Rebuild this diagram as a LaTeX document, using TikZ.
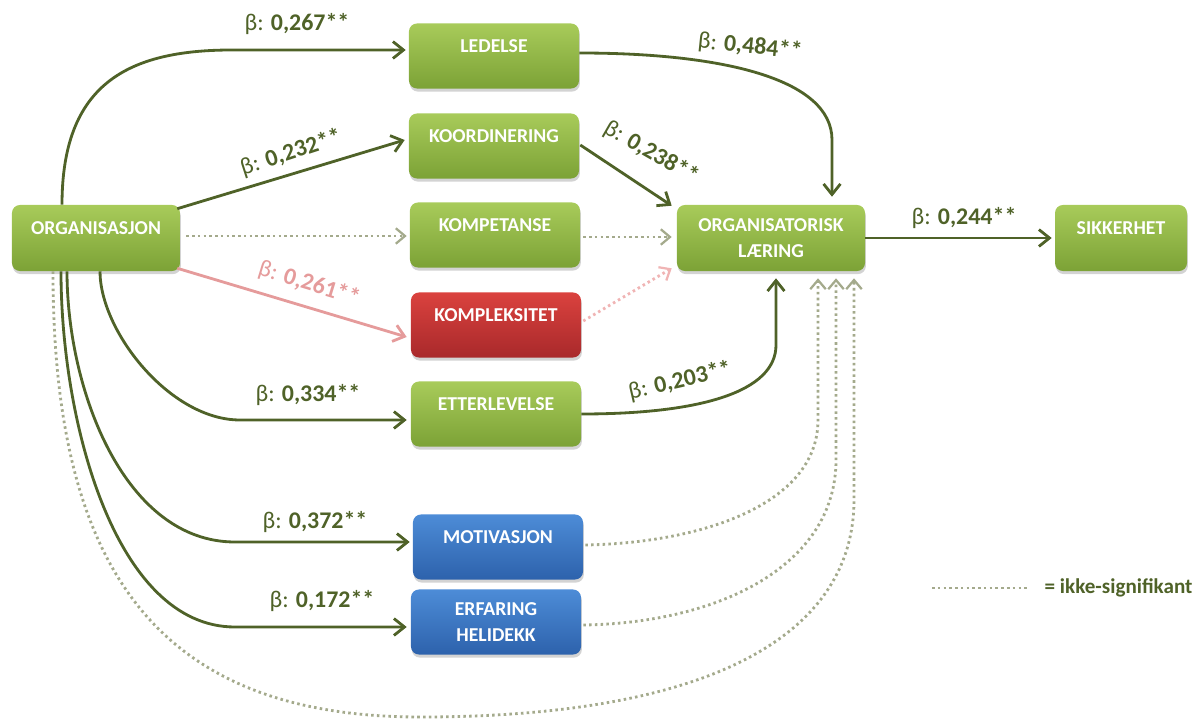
\documentclass[tikz,border=0pt]{standalone}
\usepackage{fontspec}
\setmainfont{Carlito}
\usetikzlibrary{arrows.meta,calc,shadows}
\definecolor{dkg}{HTML}{4F6228}
\definecolor{gtop}{HTML}{A8CB5A}
\definecolor{gbot}{HTML}{7CA236}
\definecolor{rtop}{HTML}{DA423E}
\definecolor{rbot}{HTML}{A9292B}
\definecolor{btop}{HTML}{4D8CD7}
\definecolor{bbot}{HTML}{2D62AC}
\definecolor{dotc}{HTML}{A4AA8C}
\definecolor{pinkc}{HTML}{E59B9B}
\definecolor{pdotc}{HTML}{F0B4B4}
\begin{document}
\begin{tikzpicture}[x=0.025cm,y=-0.025cm,
  box/.style={rounded corners=0.2cm, minimum width=4.25cm, minimum height=1.625cm,
    text=white, font=\bfseries\fontsize{14}{18}\selectfont, align=center, inner sep=2pt,
    drop shadow={opacity=0.35,shadow xshift=0.6pt,shadow yshift=-2.2pt}},
  one/.style={text height=9pt,text depth=14pt},
  gbox/.style={box, top color=gtop, bottom color=gbot},
  rbox/.style={box, top color=rtop, bottom color=rbot},
  bbox/.style={box, top color=btop, bottom color=bbot},
  arr/.style={draw=dkg, line width=2pt, -{Straight Barb[length=7.5pt,width=12pt,line width=2pt]}},
  parr/.style={draw=pinkc, line width=2pt, -{Straight Barb[length=7.5pt,width=12pt,line width=2pt]}},
  dot/.style={draw=dotc, line width=2pt, dash pattern=on 1.8pt off 2.3pt, -{Straight Barb[length=6.5pt,width=11pt,line width=1.6pt]}},
  pdot/.style={draw=pdotc, line width=2pt, dash pattern=on 1.8pt off 2.3pt, -{Straight Barb[length=6.5pt,width=11pt,line width=1.6pt]}},
  dotline/.style={draw=dotc, line width=2pt, dash pattern=on 1.8pt off 2.3pt},
  lab/.style={text=dkg, font=\fontsize{17}{20}\selectfont, inner sep=1pt},
]
\useasboundingbox (0,0) rectangle (1200,720);

% nodes
\node[gbox,one,minimum width=4.2cm,minimum height=1.65cm] (org) at (96,238) {ORGANISASJON};
\node[gbox,one] (led) at (494,56) {LEDELSE};
\node[gbox,one] (koo) at (494,146) {KOORDINERING};
\node[gbox,one] (kom) at (495,235) {KOMPETANSE};
\node[rbox,one] (kpx) at (496,325) {KOMPLEKSITET};
\node[gbox,one] (ett) at (496,414) {ETTERLEVELSE};
\node[bbox,one] (mot) at (498,547) {MOTIVASJON};
\node[bbox] (erf) at (496,622) {ERFARING\\HELIDEKK};
\node[gbox,minimum width=4.7cm,minimum height=1.65cm] (ol) at (771,238) {ORGANISATORISK\\LÆRING};
\node[gbox,one,minimum width=3.3cm,minimum height=1.65cm] (sik) at (1121,238) {SIKKERHET};

% edges from ORGANISASJON
\draw[arr] ($(org.north)+(-34,0)$) .. controls +(0,-120) and +(-105,0) .. (232,50) -- ($(led.west)+(-3,-6)$);
\draw[arr] ($(org.north east)+(-3,4)$) -- ($(koo.west)+(-4,-6)$);
\draw[dot] ($(org.east)+(6,-2)$) -- ($(kom.west)+(-3,1)$);
\draw[parr] ($(org.south east)+(-3,-3)$) -- ($(kpx.west)+(-4,12)$);
\draw[arr] ($(org.south)+(4,0)$) .. controls +(0,60) and +(-70,0) .. (240,420) -- ($(ett.west)+(-4,6)$);
\draw[arr] ($(org.south)+(-29,0)$) .. controls +(0,120) and +(-110,0) .. (235,542) -- ($(mot.west)+(-3,-5)$);
\draw[arr] ($(org.south)+(-35,0)$) .. controls +(0,150) and +(-120,0) .. (235,627) -- ($(erf.west)+(-4,5)$);
\draw[dot] ($(org.south)+(-43,0)$) .. controls (53,560) and (150,717) .. (420,717) .. controls (720,717) and (854,630) .. (854,500) -- ($(ol.south)+(83,7)$);

% edges into ORGANISATORISK LAERING
\draw[arr] ($(led.east)+(0,-3)$) .. controls (720,53) and (832,78) .. (832,140) -- ($(ol.north)+(61,-8)$);
\draw[arr] ($(koo.east)+(1,-1)$) -- ($(ol.north west)+(-5,1)$);
\draw[dot] ($(kom.east)+(3,2)$) -- ($(ol.west)+(-5,-1)$);
\draw[pdot] ($(kpx.east)+(2,-4)$) -- ($(ol.south west)+(-5,-3)$);
\draw[arr] (ett.east) .. controls (700,414) and (776,392) .. (776,345) -- ($(ol.south)+(5,7)$);
\draw[dot] ($(mot.east)+(2,-2)$) .. controls (700,543) and (818,505) .. (818,420) -- ($(ol.south)+(47,7)$);
\draw[dot] ($(erf.east)+(2,3)$) .. controls (720,623) and (836,565) .. (836,460) -- ($(ol.south)+(65,7)$);
\draw[arr] (ol.east) -- ($(sik.west)+(-3,0)$);

% labels
\node[lab] (l1) at (297,24) {β: \textbf{0,267**}};
\node[lab,rotate=18] (l2) at (291,153) {β: \textbf{0,232**}};
\node[lab,text=pinkc,rotate=-17] (l3) at (309,284) {β: \textbf{0,261**}};
\node[lab] (l4) at (308,395) {β: \textbf{0,334**}};
\node[lab] (l5) at (315,522) {β: \textbf{0,372**}};
\node[lab] (l6) at (322,601) {β: \textbf{0,172**}};
\node[lab,rotate=-6] (l7) at (750,47) {β: \textbf{0,484**}};
\node[lab,rotate=-30] (l8) at (651,153) {β: \textbf{0,238**}};
\node[lab,rotate=13] (l9) at (680,381) {β: \textbf{0,203**}};
\node[lab] (l10) at (964,218) {β: \textbf{0,244**}};

% legend
\coordinate (lg1) at (932,588);
\coordinate (lg2) at (1030,588);
\draw[dotline] (lg1) -- (lg2);
\node[lab,anchor=west,font=\bfseries\fontsize{15}{18}\selectfont] (legtxt) at (1043,588) {= ikke-signifikant};
\end{tikzpicture}
\end{document}
